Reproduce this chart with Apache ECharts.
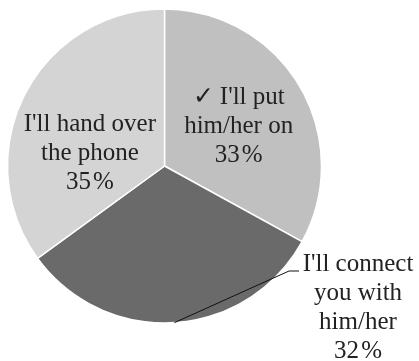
<!DOCTYPE html>
<html><head><meta charset="utf-8">
<script src="https://cdn.jsdelivr.net/npm/echarts@6/dist/echarts.min.js"></script>
<style>html,body{margin:0;padding:0;background:#fff}#c{width:419px;height:361px}</style>
</head><body><div id="c"></div>
<script>
var categories = ["\u2713 I'll put\nhim/her on", "I'll connect\nyou with\nhim/her", "I'll hand over\nthe phone"];
var values = [33, 32, 35];
var colors = ['#c0c0c0', '#6a6a6a', '#d4d4d4'];

var chart = echarts.init(document.getElementById('c'), null, {renderer: 'canvas'});
var data = categories.map(function (name, i) {
  var item = {name: name, value: values[i], itemStyle: {color: colors[i]}};
  if (i === 1) {
    item.label = {position: 'outside'};
  }
  return item;
});
chart.setOption({
  animation: false,
  series: [{
    type: 'pie',
    center: [164.5, 166],
    radius: 157,
    startAngle: 90,
    clockwise: true,
    avoidLabelOverlap: false,
    itemStyle: {borderColor: '#ffffff', borderWidth: 1.5},
    label: {
      show: true,
      position: 'inside',
      formatter: function (p) { return p.name + '\n' + p.value + '\u200A%'; },
      fontFamily: '"Liberation Serif", "Times New Roman", serif',
      fontSize: 25,
      lineHeight: 29,
      color: '#222222',
      align: 'center'
    },
    labelLine: {show: false},
    emphasis: {disabled: true},
    labelLayout: function (p) {
      if (p.dataIndex === 0) return {dx: 4, dy: 2};
      if (p.dataIndex === 2) return {dx: -2, dy: 24};
      if (p.dataIndex === 1) {
        return {x: 358, y: 308, align: 'center', verticalAlign: 'middle'};
      }
      return {};
    },
    data: data
  }]
});

// leader line for the outside label, starting at the slice's mid-angle edge from the pie layout
var lay = chart.getModel().getSeriesByIndex(0).getData().getItemLayout(1);
var mid = (lay.startAngle + lay.endAngle) / 2;
var edge = [lay.cx + lay.r * Math.cos(mid), lay.cy + lay.r * Math.sin(mid)];
var leader = new echarts.graphic.Polyline({
  z: 100,
  silent: true,
  shape: {points: [edge, [289, 271], [299, 271]]},
  style: {stroke: '#111111', lineWidth: 1, fill: null}
});
chart.getZr().add(leader);
</script>
</body></html>
